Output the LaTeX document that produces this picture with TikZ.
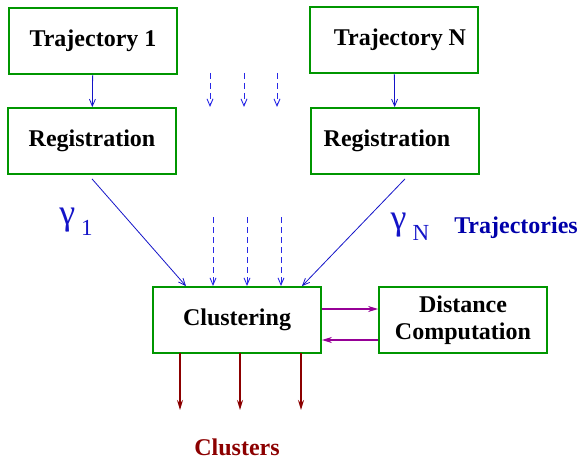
\documentclass[tikz,border=0pt]{standalone}
\usepackage{fontspec}
\setmainfont{Liberation Serif}
\usetikzlibrary{arrows.meta}
\definecolor{boxgreen}{RGB}{0,150,0}
\definecolor{lineblue}{RGB}{20,20,200}
\definecolor{dashblue}{RGB}{40,40,230}
\definecolor{textblue}{RGB}{0,0,170}
\definecolor{linkpurple}{RGB}{150,0,150}
\definecolor{outred}{RGB}{140,0,0}

\begin{document}
\begin{tikzpicture}[x=1pt,y=-1pt,
  stage/.style={draw=boxgreen,line width=1.8pt,rectangle,align=center,minimum width=168pt,minimum height=66pt,font=\fontsize{24}{27}\selectfont\bfseries},
  feed/.style={lineblue,line width=0.8pt,-{Straight Barb[length=7pt,width=6pt]}},
  feeddash/.style={dashblue,line width=0.9pt,dash pattern=on 6pt off 4pt,-{Straight Barb[length=7pt,width=6pt]}},
  link/.style={linkpurple,line width=1.4pt,-{Stealth[length=10pt,width=6pt]}},
  yield/.style={outred,line width=1.4pt,-{Stealth[length=10pt,width=6pt]}},
  greek/.style={lineblue,font=\fontsize{36}{38}\selectfont}]
\useasboundingbox (0,0) rectangle (579,460);
\node[stage](T1) at (93,41) {Trajectory 1};
\node[stage](R1) at (92,141) {Registration};
\node[stage](TN) at (394,40) {\hspace{12pt}Trajectory N};
\node[stage](RN) at (395,141) {Registration\hspace{16pt}};
\node[stage](C)  at (237,320) {Clustering};
\node[stage](D)  at (463,320) {Distance\\Computation};
\draw[feed] (T1) -- (R1);
\draw[feed] (TN) -- (RN);
\foreach \x in {210,244,277}
  \draw[feeddash] (\x,73) -- (\x,107);
\draw[feed] ([yshift=-4pt]R1.south) -- ([xshift=-51pt]C.north);
\draw[feed] ([xshift=10pt,yshift=-4pt]RN.south) -- ([xshift=65pt]C.north);
\foreach \x in {213,247,281}
  \draw[feeddash] (\x,217) -- (\x,286);
\draw[link] ([yshift=11pt]C.east) -- ([yshift=11pt]D.west);
\draw[link] ([yshift=-20pt]D.west) -- ([yshift=-20pt]C.east);
\foreach \x in {180,240,301}
  \draw[yield] (\x,353) -- (\x,410);
\node[greek](g1) at (76,222) {γ\,\raisebox{-11pt}{\fontsize{23}{25}\selectfont 1}};
\node[greek](gN) at (410,227) {γ\,\raisebox{-11pt}{\fontsize{23}{25}\selectfont N}};
\node[textblue,font=\fontsize{24}{27}\selectfont\bfseries](L) at (516,228) {Trajectories};
\node[outred,font=\fontsize{24}{27}\selectfont\bfseries](K) at (237,447) {Clusters};
\end{tikzpicture}
\end{document}
